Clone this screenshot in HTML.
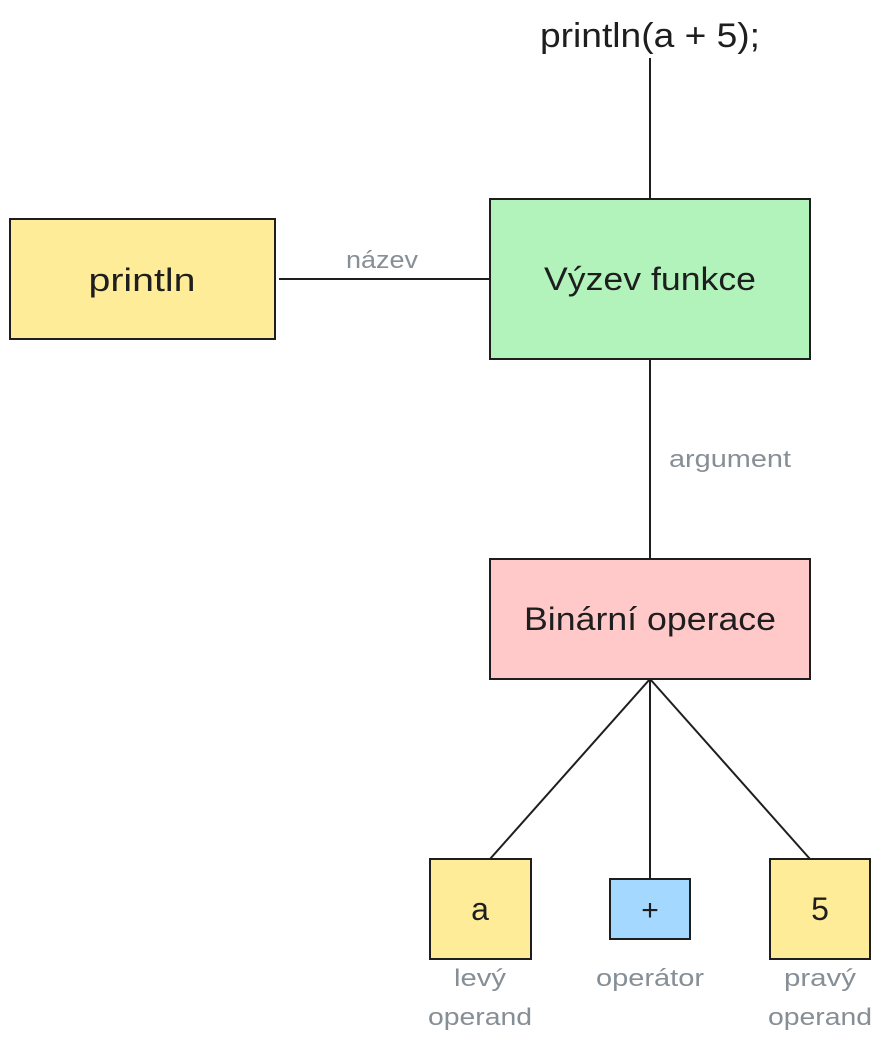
<!DOCTYPE html>
<html><head><meta charset="utf-8"><style>
html,body{margin:0;padding:0;background:#fff;}
svg{display:block;}
text{font-family:"Liberation Sans",sans-serif;}
</style></head><body>
<svg width="882" height="1044" viewBox="0 0 882 1044" xmlns="http://www.w3.org/2000/svg">
<g stroke="#1e1e1e" stroke-width="2" fill="none">
<line x1="650" y1="58" x2="650" y2="199"/>
<line x1="279" y1="279" x2="490" y2="279"/>
<line x1="650" y1="359" x2="650" y2="559"/>
<line x1="650" y1="679" x2="490" y2="859"/>
<line x1="650" y1="679" x2="650" y2="879"/>
<line x1="650" y1="679" x2="810" y2="859"/>
</g>
<g stroke="#1e1e1e" stroke-width="2">
<rect x="10" y="219" width="265" height="120" fill="#ffec99"/>
<rect x="490" y="199" width="320" height="160" fill="#b2f2bb"/>
<rect x="490" y="559" width="320" height="120" fill="#ffc9c9"/>
<rect x="430" y="859" width="101" height="100" fill="#ffec99"/>
<rect x="610" y="879" width="80" height="60" fill="#a5d8ff"/>
<rect x="770" y="859" width="100" height="100" fill="#ffec99"/>
</g>
<g fill="#1e1e1e" text-anchor="middle" lengthAdjust="spacingAndGlyphs">
<text x="650" y="47" font-size="34" textLength="220" lengthAdjust="spacingAndGlyphs">println(a + 5);</text>
<text x="142" y="291" font-size="32" textLength="107" lengthAdjust="spacingAndGlyphs">println</text>
<text x="650" y="290" font-size="32" textLength="212" lengthAdjust="spacingAndGlyphs">Výzev funkce</text>
<text x="650" y="630" font-size="32" textLength="252" lengthAdjust="spacingAndGlyphs">Binární operace</text>
<text x="480" y="920" font-size="32">a</text>
<text x="650" y="920" font-size="30">+</text>
<text x="820" y="920" font-size="32">5</text>
</g>
<g fill="#868e96" text-anchor="middle" font-size="24">
<text x="382" y="268" textLength="72" lengthAdjust="spacingAndGlyphs">název</text>
<text x="730" y="467" textLength="122" lengthAdjust="spacingAndGlyphs">argument</text>
<text x="480" y="986" textLength="52" lengthAdjust="spacingAndGlyphs">levý</text>
<text x="480" y="1025" textLength="104" lengthAdjust="spacingAndGlyphs">operand</text>
<text x="650" y="986" textLength="108" lengthAdjust="spacingAndGlyphs">operátor</text>
<text x="820" y="986" textLength="72" lengthAdjust="spacingAndGlyphs">pravý</text>
<text x="820" y="1025" textLength="104" lengthAdjust="spacingAndGlyphs">operand</text>
</g>
</svg>
</body></html>
